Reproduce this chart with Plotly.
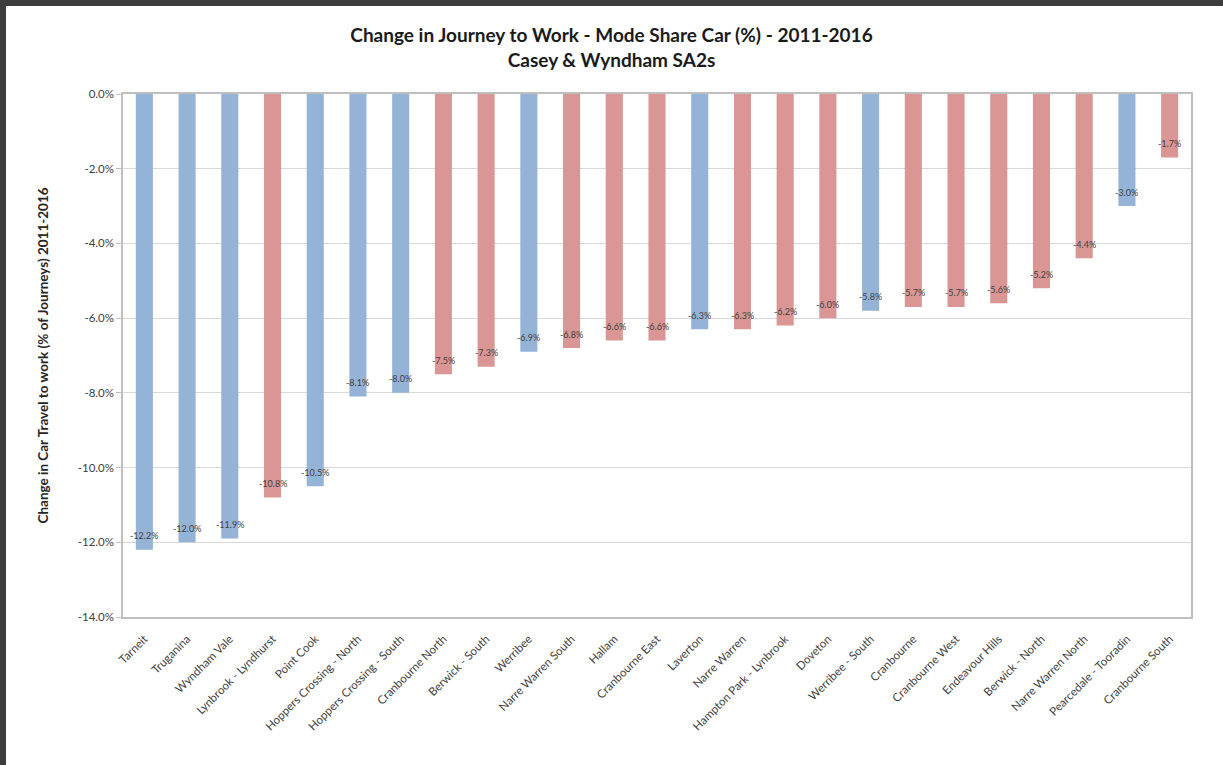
import plotly.graph_objects as go

categories = [
    "Tarneit", "Truganina", "Wyndham Vale", "Lynbrook - Lyndhurst", "Point Cook",
    "Hoppers Crossing - North", "Hoppers Crossing - South", "Cranbourne North",
    "Berwick - South", "Werribee", "Narre Warren South", "Hallam", "Cranbourne East",
    "Laverton", "Narre Warren", "Hampton Park - Lynbrook", "Doveton", "Werribee - South",
    "Cranbourne", "Cranbourne West", "Endeavour Hills", "Berwick - North",
    "Narre Warren North", "Pearcedale - Tooradin", "Cranbourne South",
]
values = [
    -12.2, -12.0, -11.9, -10.8, -10.5, -8.1, -8.0, -7.5, -7.3, -6.9, -6.8, -6.6, -6.6,
    -6.3, -6.3, -6.2, -6.0, -5.8, -5.7, -5.7, -5.6, -5.2, -4.4, -3.0, -1.7,
]
# "W" = Wyndham (blue), "C" = Casey (red) as coloured in the source picture
groups = [
    "W", "W", "W", "C", "W", "W", "W", "C", "C", "W", "C", "C", "C",
    "W", "C", "C", "C", "W", "C", "C", "C", "C", "C", "W", "C",
]
y_ticks = [0, -2, -4, -6, -8, -10, -12, -14]

BLUE = "#95B3D7"
RED = "#D99694"
colors = [BLUE if g == "W" else RED for g in groups]

W, H = 1223, 765
L, R, T, B = 123, 32, 94, 148
pw, ph = W - L - R, H - T - B

fig = go.Figure()
fig.add_trace(go.Bar(
    x=categories, y=values, marker=dict(color=colors, line=dict(width=0)),
    hoverinfo="x+y", showlegend=False,
))

for c, v in zip(categories, values):
    fig.add_annotation(
        x=c, y=v, xref="x", yref="y", text=f"{v:.1f}%", showarrow=False,
        yanchor="middle", yshift=14, font=dict(size=9, color="#404040", family="Lato"),
    )

# y-axis title
fig.add_annotation(
    x=(42 - L) / pw, y=0.5, xref="paper", yref="paper", textangle=-90,
    text="<b>Change in Car Travel to work (% of Journeys) 2011-2016</b>",
    showarrow=False, font=dict(size=13.5, color="#262626", family="Lato"),
    xanchor="center", yanchor="middle",
)

# dark frame at top and left of the screenshot
fig.add_shape(type="rect", xref="paper", yref="paper",
              x0=-L / pw, x1=(W - L) / pw, y0=(H - B - 6) / ph, y1=(H - B) / ph,
              fillcolor="#3d3d3d", line=dict(width=0), layer="above")
fig.add_shape(type="rect", xref="paper", yref="paper",
              x0=-L / pw, x1=(6 - L) / pw, y0=-B / ph, y1=(H - B) / ph,
              fillcolor="#3d3d3d", line=dict(width=0), layer="above")

fig.update_layout(
    width=W, height=H,
    margin=dict(l=L, r=R, t=T, b=B, pad=0),
    paper_bgcolor="white", plot_bgcolor="white",
    bargap=0.6,
    font=dict(family="Lato", color="#404040"),
    title=dict(
        text="<b>Change in Journey to Work - Mode Share Car (%) - 2011-2016<br>Casey & Wyndham SA2s</b>",
        x=0.5, xref="container", xanchor="center",
        y=1 - 42 / H, yref="container", yanchor="middle",
        font=dict(size=19, color="#1a1a1a", family="Lato"),
    ),
    xaxis=dict(
        tickangle=-45, tickfont=dict(size=11.5, color="#404040"),
        showline=True, mirror=True, linecolor="#bfbfbf", linewidth=1.5,
        showgrid=False, ticks="", automargin=False, ticklabelstandoff=9,
    ),
    yaxis=dict(
        range=[-14, 0], tickvals=y_ticks,
        ticktext=[f"{t:.1f}%" for t in y_ticks],
        tickfont=dict(size=11.5, color="#404040"),
        showgrid=True, gridcolor="#d9d9d9", gridwidth=1,
        showline=True, mirror=True, linecolor="#bfbfbf", linewidth=1.5,
        ticks="outside", ticklen=5, tickcolor="#bfbfbf",
        zeroline=False, automargin=False,
    ),
)

fig.write_html("out.html")
